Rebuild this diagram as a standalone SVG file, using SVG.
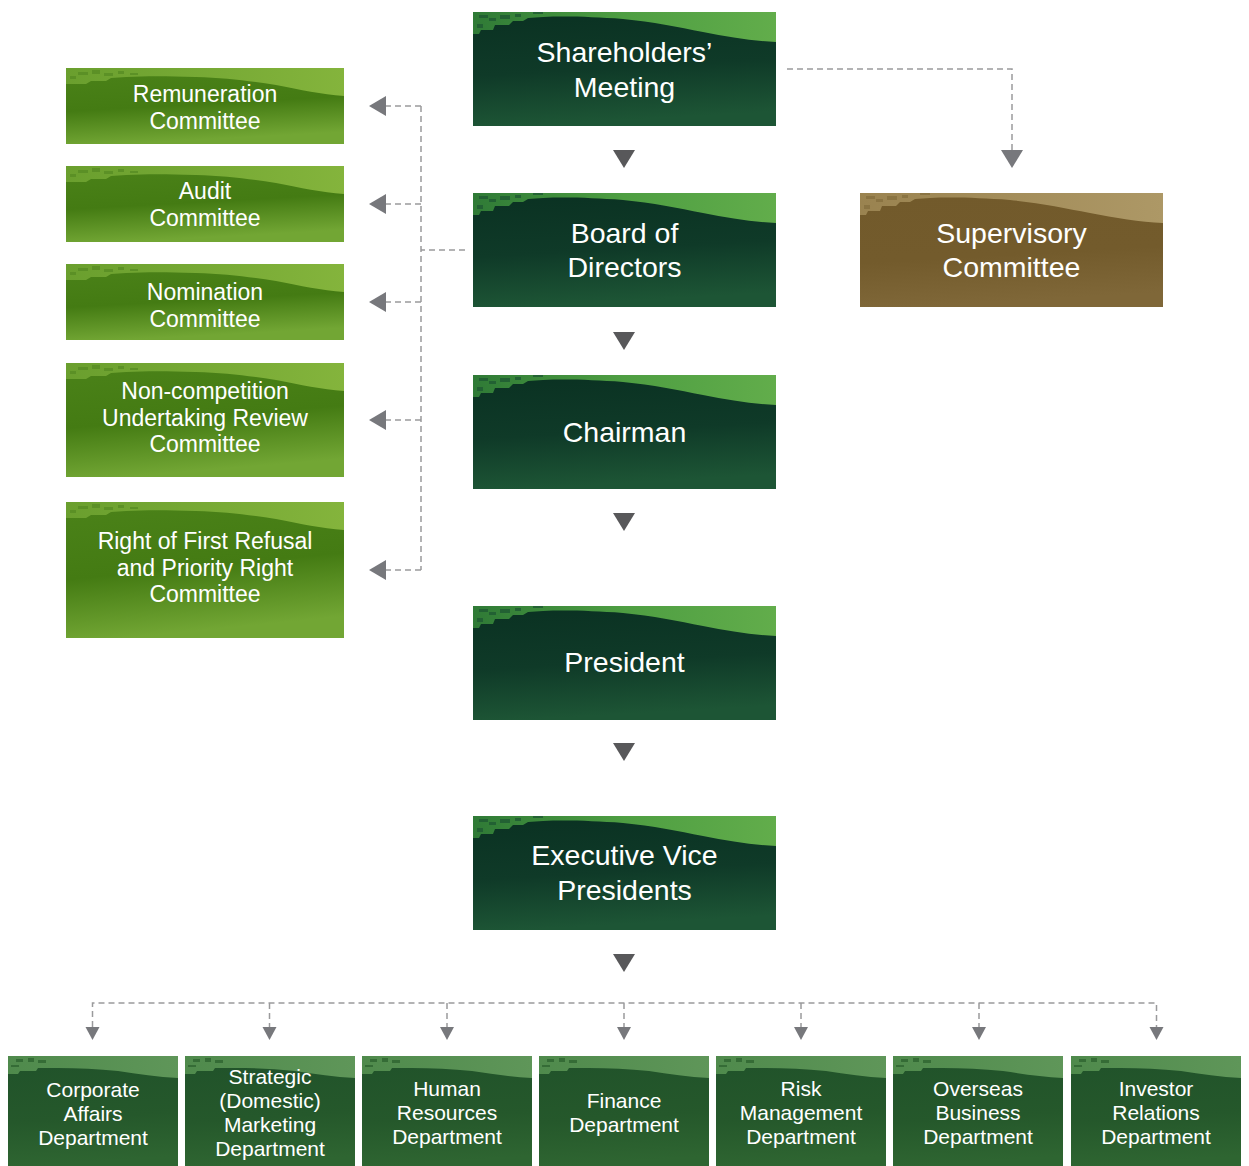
<svg xmlns="http://www.w3.org/2000/svg" xmlns:xlink="http://www.w3.org/1999/xlink" width="1249" height="1166" viewBox="0 0 1249 1166">
<style>
  text { font-family: "Liberation Sans", Arial, sans-serif; fill: #ffffff; text-anchor: middle; }
  .t28 { font-size: 28.5px; }
  .t23 { font-size: 23px; }
  .t21 { font-size: 21px; }
  .dash { fill: none; stroke: #9a9a9c; stroke-width: 1.5; stroke-dasharray: 6 4; }
  .solid { fill: #58585a; }
  .gtri { fill: #77787c; }
</style>
<defs>
  <linearGradient id="gDark" x1="0" y1="0" x2="0.15" y2="1">
    <stop offset="0" stop-color="#0a3122"/>
    <stop offset="0.55" stop-color="#0f3a28"/>
    <stop offset="1" stop-color="#1d5535"/>
  </linearGradient>
  <linearGradient id="gDarkHi" x1="0" y1="0" x2="1" y2="0">
    <stop offset="0" stop-color="#2f7a36"/>
    <stop offset="0.5" stop-color="#4e9e42"/>
    <stop offset="1" stop-color="#62ad4b"/>
  </linearGradient>
  <linearGradient id="gCom" x1="0" y1="0" x2="0.2" y2="1">
    <stop offset="0" stop-color="#4b8219"/>
    <stop offset="0.55" stop-color="#447b13"/>
    <stop offset="1" stop-color="#72a634"/>
  </linearGradient>
  <linearGradient id="gComHi" x1="0" y1="0" x2="1" y2="0">
    <stop offset="0" stop-color="#6a9f2e"/>
    <stop offset="1" stop-color="#84b43c"/>
  </linearGradient>
  <linearGradient id="gSup" x1="0" y1="0" x2="0.15" y2="1">
    <stop offset="0" stop-color="#725a2b"/>
    <stop offset="0.6" stop-color="#735b2c"/>
    <stop offset="1" stop-color="#7f6738"/>
  </linearGradient>
  <linearGradient id="gSupHi" x1="0" y1="0" x2="1" y2="0">
    <stop offset="0" stop-color="#9a8350"/>
    <stop offset="1" stop-color="#ad9866"/>
  </linearGradient>
  <linearGradient id="gDep" x1="0" y1="0" x2="0.1" y2="1">
    <stop offset="0" stop-color="#20522a"/>
    <stop offset="0.6" stop-color="#25582b"/>
    <stop offset="1" stop-color="#2e6531"/>
  </linearGradient>
  <linearGradient id="gDepHi" x1="0" y1="0" x2="1" y2="0">
    <stop offset="0" stop-color="#4f8a4c"/>
    <stop offset="1" stop-color="#5f9659"/>
  </linearGradient>
  <path id="hiMain" d="M0,0 H303 V30 C280,29 255,25 230,20 C205,15 180,10 150,7 C120,5 95,4 70,5 L55,6 L50,9 L40,9 L36,13 L22,13 L20,18 L8,18 L6,22 L0,22 Z"/>
  <g id="speckMain">
    <rect x="6" y="3" width="9" height="3"/>
    <rect x="16" y="6" width="7" height="3"/>
    <rect x="27" y="3" width="10" height="4"/>
    <rect x="42" y="2" width="6" height="3"/>
    <rect x="4" y="12" width="6" height="4"/>
    <rect x="60" y="0" width="10" height="2"/>
  </g>
  <path id="hiCom" d="M0,0 H278 V28 C255,26 235,22 210,17 C185,13 160,10 130,9 C100,8 80,8 60,9 L45,10 L40,13 L25,13 L20,16 L0,16 Z"/>
  <g id="speckCom">
    <rect x="12" y="4" width="10" height="3"/>
    <rect x="26" y="2" width="8" height="4"/>
    <rect x="38" y="5" width="9" height="3"/>
    <rect x="52" y="3" width="6" height="3"/>
    <rect x="64" y="5" width="8" height="2"/>
    <rect x="4" y="8" width="6" height="3"/>
  </g>
  <path id="hiDep" d="M0,0 H170 V22 C150,21 130,18 110,15 C90,13 70,12 50,12 L30,12 L28,15 L12,15 L10,18 L0,18 Z"/>
  <g id="speckDep">
    <rect x="8" y="3" width="7" height="3"/>
    <rect x="20" y="2" width="6" height="4"/>
    <rect x="30" y="4" width="8" height="3"/>
    <rect x="3" y="9" width="8" height="2"/>
  </g>
</defs>

<g id="connectors">
  <polygon class="solid" points="613,150 635,150 624,168"/>
  <polygon class="solid" points="613,332 635,332 624,350"/>
  <polygon class="solid" points="613,513 635,513 624,531"/>
  <polygon class="solid" points="613,743 635,743 624,761"/>
  <polygon class="solid" points="613,954 635,954 624,972"/>
  <polyline class="dash" points="787,69 1012,69 1012,150"/>
  <polygon class="gtri" points="1001,150 1023,150 1012,168"/>
  <path class="dash" d="M465,250 H421 M421,106 V570 M421,106 H386 M421,204 H386 M421,302 H386 M421,420 H386 M421,570 H386"/>
  <polygon class="gtri" points="386,96 386,116 369,106"/>
  <polygon class="gtri" points="386,194 386,214 369,204"/>
  <polygon class="gtri" points="386,292 386,312 369,302"/>
  <polygon class="gtri" points="386,410 386,430 369,420"/>
  <polygon class="gtri" points="386,560 386,580 369,570"/>
  <path class="dash" d="M92.5,1027 V1003 H1156.5 V1027 M269.5,1003 V1027 M447,1003 V1027 M624,1003 V1027 M801,1003 V1027 M979,1003 V1027"/>
  <polygon class="gtri" points="85.5,1027 99.5,1027 92.5,1040"/>
  <polygon class="gtri" points="262.5,1027 276.5,1027 269.5,1040"/>
  <polygon class="gtri" points="440,1027 454,1027 447,1040"/>
  <polygon class="gtri" points="617,1027 631,1027 624,1040"/>
  <polygon class="gtri" points="794,1027 808,1027 801,1040"/>
  <polygon class="gtri" points="972,1027 986,1027 979,1040"/>
  <polygon class="gtri" points="1149.5,1027 1163.5,1027 1156.5,1040"/>
</g>

<g id="shareholders" transform="translate(473,12)">
  <rect width="303" height="114" fill="url(#gDark)"/>
  <use href="#hiMain" fill="url(#gDarkHi)"/>
  <use href="#speckMain" fill="#1f5a33" opacity="0.8"/>
  <text class="t28" x="151.5" y="50">Shareholders’</text>
  <text class="t28" x="151.5" y="85">Meeting</text>
</g>
<g id="board" transform="translate(473,193)">
  <rect width="303" height="114" fill="url(#gDark)"/>
  <use href="#hiMain" fill="url(#gDarkHi)"/>
  <use href="#speckMain" fill="#1f5a33" opacity="0.8"/>
  <text class="t28" x="151.5" y="50">Board of</text>
  <text class="t28" x="151.5" y="84">Directors</text>
</g>
<g id="chairman" transform="translate(473,375)">
  <rect width="303" height="114" fill="url(#gDark)"/>
  <use href="#hiMain" fill="url(#gDarkHi)"/>
  <use href="#speckMain" fill="#1f5a33" opacity="0.8"/>
  <text class="t28" x="151.5" y="67">Chairman</text>
</g>
<g id="president" transform="translate(473,606)">
  <rect width="303" height="114" fill="url(#gDark)"/>
  <use href="#hiMain" fill="url(#gDarkHi)"/>
  <use href="#speckMain" fill="#1f5a33" opacity="0.8"/>
  <text class="t28" x="151.5" y="66">President</text>
</g>
<g id="evp" transform="translate(473,816)">
  <rect width="303" height="114" fill="url(#gDark)"/>
  <use href="#hiMain" fill="url(#gDarkHi)"/>
  <use href="#speckMain" fill="#1f5a33" opacity="0.8"/>
  <text class="t28" x="151.5" y="49">Executive Vice</text>
  <text class="t28" x="151.5" y="84">Presidents</text>
</g>

<g id="supervisory" transform="translate(860,193)">
  <rect width="303" height="114" fill="url(#gSup)"/>
  <use href="#hiMain" fill="url(#gSupHi)"/>
  <use href="#speckMain" fill="#86703f" opacity="0.8"/>
  <text class="t28" x="151.5" y="50">Supervisory</text>
  <text class="t28" x="151.5" y="84">Committee</text>
</g>

<g id="remuneration" transform="translate(66,68)">
  <rect width="278" height="76" fill="url(#gCom)"/>
  <use href="#hiCom" fill="url(#gComHi)"/>
  <use href="#speckCom" fill="#588d24" opacity="0.8"/>
  <text class="t23" x="139" y="34">Remuneration</text>
  <text class="t23" x="139" y="61">Committee</text>
</g>
<g id="audit" transform="translate(66,166)">
  <rect width="278" height="76" fill="url(#gCom)"/>
  <use href="#hiCom" fill="url(#gComHi)"/>
  <use href="#speckCom" fill="#588d24" opacity="0.8"/>
  <text class="t23" x="139" y="33">Audit</text>
  <text class="t23" x="139" y="60">Committee</text>
</g>
<g id="nomination" transform="translate(66,264)">
  <rect width="278" height="76" fill="url(#gCom)"/>
  <use href="#hiCom" fill="url(#gComHi)"/>
  <use href="#speckCom" fill="#588d24" opacity="0.8"/>
  <text class="t23" x="139" y="36">Nomination</text>
  <text class="t23" x="139" y="63">Committee</text>
</g>
<g id="noncompetition" transform="translate(66,363)">
  <rect width="278" height="114" fill="url(#gCom)"/>
  <use href="#hiCom" fill="url(#gComHi)"/>
  <use href="#speckCom" fill="#588d24" opacity="0.8"/>
  <text class="t23" x="139" y="36">Non-competition</text>
  <text class="t23" x="139" y="63">Undertaking Review</text>
  <text class="t23" x="139" y="89">Committee</text>
</g>
<g id="firstrefusal" transform="translate(66,502)">
  <rect width="278" height="136" fill="url(#gCom)"/>
  <use href="#hiCom" fill="url(#gComHi)"/>
  <use href="#speckCom" fill="#588d24" opacity="0.8"/>
  <text class="t23" x="139" y="47">Right of First Refusal</text>
  <text class="t23" x="139" y="74">and Priority Right</text>
  <text class="t23" x="139" y="100">Committee</text>
</g>

<g id="corporate" transform="translate(8,1056)">
  <rect width="170" height="110" fill="url(#gDep)"/>
  <use href="#hiDep" fill="url(#gDepHi)"/>
  <use href="#speckDep" fill="#2f6531" opacity="0.8"/>
  <text class="t21" x="85" y="41">Corporate</text>
  <text class="t21" x="85" y="65">Affairs</text>
  <text class="t21" x="85" y="89">Department</text>
</g>
<g id="strategic" transform="translate(185,1056)">
  <rect width="170" height="110" fill="url(#gDep)"/>
  <use href="#hiDep" fill="url(#gDepHi)"/>
  <use href="#speckDep" fill="#2f6531" opacity="0.8"/>
  <text class="t21" x="85" y="28">Strategic</text>
  <text class="t21" x="85" y="52">(Domestic)</text>
  <text class="t21" x="85" y="76">Marketing</text>
  <text class="t21" x="85" y="100">Department</text>
</g>
<g id="hr" transform="translate(362,1056)">
  <rect width="170" height="110" fill="url(#gDep)"/>
  <use href="#hiDep" fill="url(#gDepHi)"/>
  <use href="#speckDep" fill="#2f6531" opacity="0.8"/>
  <text class="t21" x="85" y="40">Human</text>
  <text class="t21" x="85" y="64">Resources</text>
  <text class="t21" x="85" y="88">Department</text>
</g>
<g id="finance" transform="translate(539,1056)">
  <rect width="170" height="110" fill="url(#gDep)"/>
  <use href="#hiDep" fill="url(#gDepHi)"/>
  <use href="#speckDep" fill="#2f6531" opacity="0.8"/>
  <text class="t21" x="85" y="52">Finance</text>
  <text class="t21" x="85" y="76">Department</text>
</g>
<g id="risk" transform="translate(716,1056)">
  <rect width="170" height="110" fill="url(#gDep)"/>
  <use href="#hiDep" fill="url(#gDepHi)"/>
  <use href="#speckDep" fill="#2f6531" opacity="0.8"/>
  <text class="t21" x="85" y="40">Risk</text>
  <text class="t21" x="85" y="64">Management</text>
  <text class="t21" x="85" y="88">Department</text>
</g>
<g id="overseas" transform="translate(893,1056)">
  <rect width="170" height="110" fill="url(#gDep)"/>
  <use href="#hiDep" fill="url(#gDepHi)"/>
  <use href="#speckDep" fill="#2f6531" opacity="0.8"/>
  <text class="t21" x="85" y="40">Overseas</text>
  <text class="t21" x="85" y="64">Business</text>
  <text class="t21" x="85" y="88">Department</text>
</g>
<g id="investor" transform="translate(1071,1056)">
  <rect width="170" height="110" fill="url(#gDep)"/>
  <use href="#hiDep" fill="url(#gDepHi)"/>
  <use href="#speckDep" fill="#2f6531" opacity="0.8"/>
  <text class="t21" x="85" y="40">Investor</text>
  <text class="t21" x="85" y="64">Relations</text>
  <text class="t21" x="85" y="88">Department</text>
</g>
</svg>
